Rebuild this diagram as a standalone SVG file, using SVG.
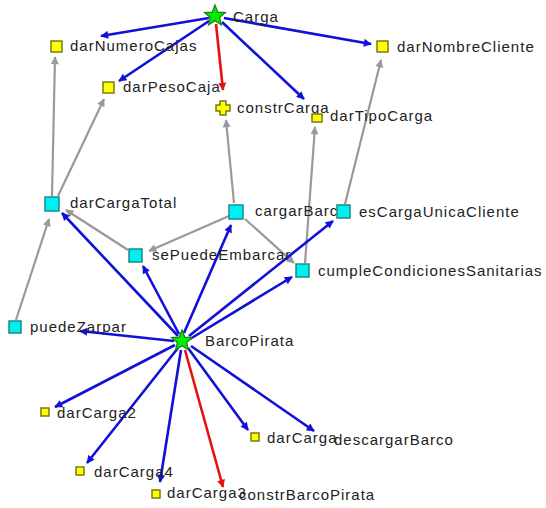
<svg xmlns="http://www.w3.org/2000/svg" xmlns:xlink="http://www.w3.org/1999/xlink" width="546" height="508" viewBox="0 0 546 508">
  <style>
    .lbl { font-family: "Liberation Sans", Arial, sans-serif; font-size: 15px; letter-spacing: 1px; fill: #222; }
    .call { stroke: #1010d8; stroke-width: 2.6; fill: none; marker-end: url(#ahBlue); }
    .uses { stroke: #999; stroke-width: 2.2; fill: none; marker-end: url(#ahGray); }
    .ctor { stroke: #e81010; stroke-width: 2.6; fill: none; marker-end: url(#ahRed); }
    .leaf { fill: #ffff00; stroke: #7a7a10; stroke-width: 1.5; }
    .meth { fill: #00f0f0; stroke: #1a8a8a; stroke-width: 1.5; }
    .cls { fill: #00ee00; stroke: #1a7a1a; stroke-width: 1.2; }
  </style>
  <defs>
    <marker id="ahBlue" viewBox="0 0 10 10" refX="9" refY="5" markerUnits="userSpaceOnUse" markerWidth="10" markerHeight="8" orient="auto">
      <path d="M0,0 L10,5 L0,10 Z" fill="#1010d8"/>
    </marker>
    <marker id="ahGray" viewBox="0 0 10 10" refX="9" refY="5" markerUnits="userSpaceOnUse" markerWidth="10" markerHeight="8" orient="auto">
      <path d="M0,0 L10,5 L0,10 Z" fill="#999"/>
    </marker>
    <marker id="ahRed" viewBox="0 0 10 10" refX="9" refY="5" markerUnits="userSpaceOnUse" markerWidth="10" markerHeight="8" orient="auto">
      <path d="M0,0 L10,5 L0,10 Z" fill="#e81010"/>
    </marker>
    <path id="star" d="M0,-11 L2.82,-3.88 L10.46,-3.4 L4.57,1.48 L6.47,8.9 L0,4.8 L-6.47,8.9 L-4.57,1.48 L-10.46,-3.4 L-2.82,-3.88 Z"/>
  </defs>

  <rect width="546" height="508" fill="#ffffff"/>

  <g id="connectors">
    <!-- Carga calls -->
    <line class="call" x1="209" y1="18" x2="101" y2="36"/>
    <line class="call" x1="209" y1="21" x2="119" y2="81"/>
    <line class="call" x1="224" y1="18" x2="371" y2="44"/>
    <line class="call" x1="222" y1="22" x2="304" y2="99"/>
    <line class="ctor" x1="216" y1="24" x2="223" y2="90"/>
    <!-- method dependencies -->
    <line class="uses" x1="52" y1="196" x2="55" y2="57"/>
    <line class="uses" x1="58" y1="196" x2="104" y2="99"/>
    <line class="uses" x1="234" y1="203" x2="226" y2="120"/>
    <line class="uses" x1="305" y1="263" x2="315" y2="127"/>
    <line class="uses" x1="345" y1="204" x2="381" y2="60"/>
    <line class="uses" x1="229" y1="216" x2="149" y2="251"/>
    <line class="uses" x1="128" y1="250" x2="66" y2="210"/>
    <line class="uses" x1="245" y1="219" x2="294" y2="263"/>
    <line class="uses" x1="16" y1="320" x2="49" y2="219"/>
    <!-- BarcoPirata calls -->
    <line class="call" x1="178" y1="336" x2="62" y2="213"/>
    <line class="call" x1="179" y1="334" x2="143" y2="266"/>
    <line class="call" x1="184" y1="333" x2="231" y2="225"/>
    <line class="call" x1="189" y1="336" x2="333" y2="221"/>
    <line class="call" x1="190" y1="339" x2="292" y2="277"/>
    <line class="call" x1="174" y1="341" x2="80" y2="331"/>
    <line class="call" x1="175" y1="345" x2="55" y2="407"/>
    <line class="call" x1="178" y1="348" x2="87" y2="463"/>
    <line class="call" x1="181" y1="350" x2="160" y2="482"/>
    <line class="ctor" x1="185" y1="350" x2="223" y2="487"/>
    <line class="call" x1="188" y1="348" x2="248" y2="430"/>
    <line class="call" x1="191" y1="346" x2="314" y2="431"/>
  </g>

  <g id="Carga">
    <use xlink:href="#star" class="cls" x="215" y="16"/>
    <text class="lbl" x="233" y="22">Carga</text>
  </g>
  <g id="darNumeroCajas">
    <rect class="leaf" x="51" y="41" width="11" height="11"/>
    <text class="lbl" x="70" y="51">darNumeroCajas</text>
  </g>
  <g id="darPesoCaja">
    <rect class="leaf" x="103" y="82" width="11" height="11"/>
    <text class="lbl" x="123" y="92">darPesoCaja</text>
  </g>
  <g id="constrCarga">
    <path class="leaf" d="M220,101 h6 v4 h4 v6 h-4 v4 h-6 v-4 h-4 v-6 h4 Z"/>
    <text class="lbl" x="237" y="113">constrCarga</text>
  </g>
  <g id="darTipoCarga">
    <rect class="leaf" x="312" y="114" width="10" height="8"/>
    <text class="lbl" x="330" y="121">darTipoCarga</text>
  </g>
  <g id="darNombreCliente">
    <rect class="leaf" x="377" y="41" width="11" height="11"/>
    <text class="lbl" x="397" y="52">darNombreCliente</text>
  </g>
  <g id="darCargaTotal">
    <rect class="meth" x="45" y="197" width="14" height="14"/>
    <text class="lbl" x="70" y="208">darCargaTotal</text>
  </g>
  <g id="cargarBarco">
    <rect class="meth" x="229" y="205" width="14" height="14"/>
    <text class="lbl" x="255" y="216">cargarBarco</text>
  </g>
  <g id="esCargaUnicaCliente">
    <rect class="meth" x="337" y="205" width="13" height="13"/>
    <text class="lbl" x="359" y="217">esCargaUnicaCliente</text>
  </g>
  <g id="sePuedeEmbarcar">
    <rect class="meth" x="129" y="249" width="13" height="13"/>
    <text class="lbl" x="152" y="260">sePuedeEmbarcar</text>
  </g>
  <g id="cumpleCondicionesSanitarias">
    <rect class="meth" x="296" y="264" width="13" height="13"/>
    <text class="lbl" x="318" y="276">cumpleCondicionesSanitarias</text>
  </g>
  <g id="puedeZarpar">
    <rect class="meth" x="9" y="321" width="12" height="12"/>
    <text class="lbl" x="30" y="332">puedeZarpar</text>
  </g>
  <g id="BarcoPirata">
    <use xlink:href="#star" class="cls" x="182" y="341"/>
    <text class="lbl" x="205" y="346">BarcoPirata</text>
  </g>
  <g id="darCarga2">
    <rect class="leaf" x="41" y="408" width="8" height="8"/>
    <text class="lbl" x="57" y="418">darCarga2</text>
  </g>
  <g id="darCarga4">
    <rect class="leaf" x="76" y="467" width="8" height="8"/>
    <text class="lbl" x="94" y="477">darCarga4</text>
  </g>
  <g id="darCarga3">
    <rect class="leaf" x="152" y="490" width="8" height="8"/>
    <text class="lbl" x="167" y="498">darCarga3</text>
  </g>
  <g id="darCarga">
    <rect class="leaf" x="251" y="433" width="8" height="8"/>
    <text class="lbl" x="267" y="443">darCarga</text>
  </g>
  <g id="descargarBarco">
    <text class="lbl" x="334" y="445">descargarBarco</text>
  </g>
  <g id="constrBarcoPirata">
    <text class="lbl" x="239" y="500">constrBarcoPirata</text>
  </g>
</svg>
